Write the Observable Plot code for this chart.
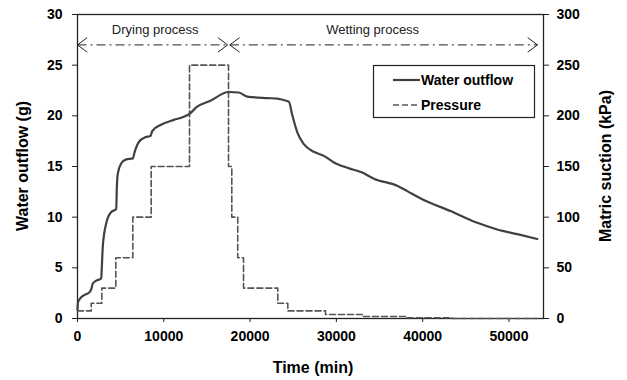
<!DOCTYPE html>
<html>
<head>
<meta charset="utf-8">
<script src="https://cdn.jsdelivr.net/npm/d3@7"></script>
<script src="https://cdn.jsdelivr.net/npm/@observablehq/plot@0.6"></script>
<style>
  body { margin: 0; background: #fff; }
  #chart svg { display: block; }
</style>
</head>
<body>
<div id="chart"></div>
<script>
// Cumulative water outflow (g) against elapsed time (min)
const outflowTime = [0, 60, 430, 1000, 1390, 1600, 1770, 2100, 2350, 2750, 2820, 2930, 3330, 3900, 4490,
  4550, 4670, 5060, 5640, 6410, 6610, 7100, 7880, 8460, 8660, 9620, 11160, 12320, 12980, 13870, 15410,
  17500, 18700, 19670, 21990, 23150, 24300, 24490, 24880, 25460, 26230, 27390, 28550, 29710, 31260,
  33000, 34340, 37050, 38210, 40000, 43230, 46330, 48640, 50960, 53280];
const outflowGrams = [0.9, 1.6, 2.1, 2.4, 2.6, 2.9, 3.45, 3.7, 3.8, 3.95, 5.1, 7.1, 9.4, 10.5, 10.8,
  12.7, 14.3, 15.3, 15.7, 15.8, 16.4, 17.4, 17.9, 18.0, 18.5, 19.1, 19.6, 19.9, 20.2, 20.9, 21.5,
  22.35, 22.3, 21.9, 21.75, 21.7, 21.45, 21.4, 20.1, 18.4, 17.2, 16.45, 16.05, 15.4, 14.87,
  14.4, 13.8, 13.1, 12.57, 11.75, 10.6, 9.44, 8.78, 8.32, 7.85];

// Applied pressure (matric suction, kPa); each value holds until the next time
const pressureTime = [0, 1590, 2820, 4440, 6410, 8540, 12980, 17500, 17880, 18570, 19240, 23210, 24370,
  28740, 33000, 38200, 43400, 53300];
const pressureKPa = [7.5, 15, 30, 60, 100, 150, 250, 150, 100, 60, 30, 15, 7.5, 4, 2, 0.7, 0, 0];

// Axis ticks
const timeTicks = [0, 10000, 20000, 30000, 40000, 50000];
const outflowTicks = [0, 5, 10, 15, 20, 25, 30];
const suctionTicks = [0, 50, 100, 150, 200, 250, 300];

// Test phases
const phaseNames = ["Drying process", "Wetting process"];
const phaseStart = [0, 17650];
const phaseEnd = [17400, 53300];
const phaseLabelTime = [9000, 34200];

// Right axis: 300 kPa spans the same height as 30 g
const kPaPerGram = 10;

const outflow = outflowTime.map((t, i) => ({t, g: outflowGrams[i]}));
const pressure = pressureTime.map((t, i) => ({t, p: pressureKPa[i] / kPaPerGram}));
const phases = phaseNames.map((name, i) => ({name, start: phaseStart[i], end: phaseEnd[i], mid: phaseLabelTime[i]}));
// open arrowheads at both ends of each phase span
const heads = phases.flatMap(d => [{t: d.start, angle: 180}, {t: d.end, angle: 0}]);

// open chevron pointing along +x, tip at the origin
const chevron = {
  draw(context, size) {
    const l = Math.sqrt(size);
    context.moveTo(-l, -l * 0.75);
    context.lineTo(0, 0);
    context.lineTo(-l, l * 0.75);
  }
};

const arrowY = 27;
const labelY = 28.45;
const ink = "#222";

const plot = Plot.plot({
  width: 627,
  height: 380,
  marginLeft: 77,
  marginRight: 84,
  marginTop: 14,
  marginBottom: 62,
  style: {
    fontFamily: "'Liberation Sans', Arial, sans-serif",
    fontSize: "14px",
    fontWeight: "bold",
    color: "#000",
    background: "#fff"
  },
  x: {domain: [0, 54000]},
  y: {domain: [0, 30]},
  marks: [
    Plot.axisX(timeTicks, {tickSize: 4, tickPadding: 9, tickFormat: d => String(d), label: null, stroke: ink}),
    Plot.axisY(outflowTicks, {anchor: "left", tickSize: 5, tickPadding: 10, label: null, stroke: ink}),
    Plot.axisY(suctionTicks.map(v => v / kPaPerGram), {
      anchor: "right", tickSize: 5, tickPadding: 8, label: null, stroke: ink,
      tickFormat: d => String(Math.round(d * kPaPerGram))
    }),
    Plot.frame({stroke: ink, strokeWidth: 1.3}),

    // phase spans
    Plot.link(phases, {x1: "start", x2: "end", y1: arrowY, y2: arrowY,
      stroke: "#222", strokeWidth: 1, strokeDasharray: "9,4,2,4"}),
    Plot.dot(heads, {x: "t", y: arrowY, rotate: "angle", symbol: chevron, r: 5.5,
      fill: "none", stroke: "#222", strokeWidth: 1}),
    Plot.text(phases, {x: "mid", y: labelY, text: "name", fill: ink,
      fontSize: 13, fontWeight: "normal", letterSpacing: -0.4}),

    Plot.line(pressure, {x: "t", y: "p", curve: "step-after",
      stroke: "#555", strokeWidth: 1.6, strokeDasharray: "6,3"}),
    Plot.line(outflow, {x: "t", y: "g", curve: "monotone-x", stroke: "#404040", strokeWidth: 2.2})
  ]
});

const svg = d3.select(plot);

// axis titles
const titles = svg.append("g")
  .attr("font-family", "'Liberation Sans', Arial, sans-serif")
  .attr("font-size", 16)
  .attr("font-weight", "bold")
  .attr("fill", "#000")
  .attr("text-anchor", "middle");
titles.append("text").attr("x", 313).attr("y", 373).text("Time (min)");
titles.append("text").attr("transform", "translate(28,166) rotate(-90)").text("Water outflow (g)");
titles.append("text").attr("transform", "translate(611,166) rotate(-90)").text("Matric suction (kPa)");

// legend
const legend = svg.append("g")
  .attr("font-family", "'Liberation Sans', Arial, sans-serif")
  .attr("font-size", 14)
  .attr("font-weight", "bold")
  .attr("text-anchor", "start")
  .attr("fill", "#000");
legend.append("rect").attr("x", 373.5).attr("y", 65.5).attr("width", 161).attr("height", 52)
  .attr("fill", "#fff").attr("stroke", ink).attr("stroke-width", 1.2);
legend.append("line").attr("x1", 393).attr("x2", 420).attr("y1", 80).attr("y2", 80)
  .attr("stroke", "#404040").attr("stroke-width", 2.2);
legend.append("line").attr("x1", 393).attr("x2", 418).attr("y1", 105).attr("y2", 105)
  .attr("stroke", "#555").attr("stroke-width", 1.6).attr("stroke-dasharray", "6,3");
legend.append("text").attr("x", 421).attr("y", 85).text("Water outflow");
legend.append("text").attr("x", 421).attr("y", 110).text("Pressure");

document.getElementById("chart").appendChild(plot);
</script>
</body>
</html>
